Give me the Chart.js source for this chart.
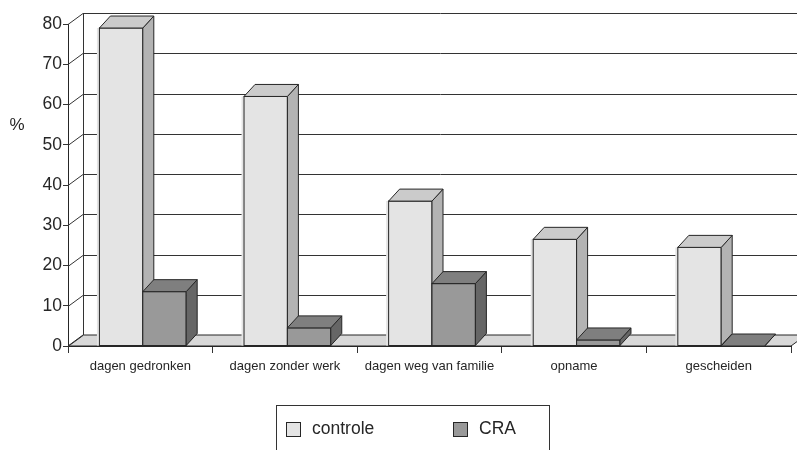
<!DOCTYPE html>
<html>
<head>
<meta charset="utf-8">
<script src="https://cdn.jsdelivr.net/npm/chart.js@4/dist/chart.umd.min.js"></script>
<style>
  html, body { margin: 0; padding: 0; background: #ffffff; }
  #wrap { width: 797px; height: 450px; position: relative; }
</style>
</head>
<body>
<div id="wrap"><canvas id="c" width="797" height="450"></canvas></div>
<script>
// Categories and series (percentages)
const categories = ['dagen gedronken', 'dagen zonder werk', 'dagen weg van familie', 'opname', 'gescheiden'];
const controle = [79, 62, 36, 26.5, 24.5];
const cra = [13.5, 4.5, 15.5, 1.5, 0];
const yMin = 0, yMax = 80, yStep = 10;
const yAxisLabel = '%';

const FONT = "'Liberation Sans', Arial, Helvetica, sans-serif";
const INK = '#262626';

// Shading for the three visible faces of each column: front, top, side
const shades = {
  controle: { front: '#e4e4e4', top: '#cbcbcb', side: '#b3b3b3' },
  cra:      { front: '#999999', top: '#7f7f7f', side: '#666666' }
};

// Depth of the walls/floor and of the columns, in pixels
const WALL_DX = 15, WALL_DY = -11;
const BAR_DX = 11, BAR_DY = -12;
// columns stand half-way into the floor depth, which nudges them right
const BAR_SHIFT = 2.5;

function poly(ctx, pts, fill, stroke) {
  ctx.beginPath();
  ctx.moveTo(pts[0][0], pts[0][1]);
  for (let i = 1; i < pts.length; i++) ctx.lineTo(pts[i][0], pts[i][1]);
  ctx.closePath();
  if (fill) { ctx.fillStyle = fill; ctx.fill(); }
  if (stroke) { ctx.strokeStyle = stroke; ctx.lineWidth = 1; ctx.stroke(); }
}

// Walls, floor and gridlines drawn behind the columns
const walls3d = {
  id: 'walls3d',
  beforeDatasetsDraw(chart) {
    const { ctx, chartArea: a, scales: { y } } = chart;
    const y0 = y.getPixelForValue(yMin);
    const yTop = y.getPixelForValue(yMax);
    ctx.save();
    // floor
    poly(ctx, [[a.left, y0], [a.right, y0], [a.right + WALL_DX, y0 + WALL_DY], [a.left + WALL_DX, y0 + WALL_DY]], '#d8d8d8', INK);
    ctx.strokeStyle = '#333333';
    ctx.lineWidth = 1;
    // back-wall gridlines and side-wall diagonals
    for (let v = yMin; v <= yMax; v += yStep) {
      const py = Math.round(y.getPixelForValue(v)) + 0.5;
      ctx.beginPath();
      if (v > yMin) {
        ctx.moveTo(a.left + WALL_DX, py + WALL_DY);
        ctx.lineTo(a.right + WALL_DX + 20, py + WALL_DY);
      }
      ctx.moveTo(a.left, py);
      ctx.lineTo(a.left + WALL_DX, py + WALL_DY);
      ctx.stroke();
    }
    // back corner of the side wall
    ctx.beginPath();
    ctx.moveTo(a.left + WALL_DX + 0.5, Math.round(yTop) + WALL_DY + 0.5);
    ctx.lineTo(a.left + WALL_DX + 0.5, y0 + WALL_DY);
    ctx.stroke();
    ctx.restore();
  }
};

// Columns drawn category by category, left series first, so every
// column's top and side faces overlap correctly with its neighbour
const columns3d = {
  id: 'columns3d',
  afterDatasetsDraw(chart) {
    const { ctx } = chart;
    const metas = chart.data.datasets.map((d, i) => chart.getDatasetMeta(i));
    ctx.save();
    ctx.translate(BAR_SHIFT, 0);
    for (let c = 0; c < categories.length; c++) {
      metas.forEach((meta, di) => {
        const bar = meta.data[c];
        if (!bar) return;
        const sh = chart.data.datasets[di].shade;
        const { x, y, base, width } = bar.getProps(['x', 'y', 'base', 'width'], true);
        const xl = x - width / 2, xr = x + width / 2;
        // front face, by the bar element itself
        bar.draw(ctx, chart.chartArea);
        if (base - y > 0.5) {
          ctx.strokeStyle = INK; ctx.lineWidth = 1;
          ctx.strokeRect(xl, y, width, base - y);
        }
        // side face
        poly(ctx, [[xr, y], [xr + BAR_DX, y + BAR_DY], [xr + BAR_DX, base + BAR_DY], [xr, base]], sh.side, INK);
        // top face
        poly(ctx, [[xl, y], [xr, y], [xr + BAR_DX, y + BAR_DY], [xl + BAR_DX, y + BAR_DY]], sh.top, INK);
      });
    }
    ctx.restore();
  }
};

// Unit label and the boxed legend below the chart
const annotations = {
  id: 'annotations',
  afterDraw(chart) {
    const { ctx } = chart;
    ctx.save();
    ctx.fillStyle = INK;
    ctx.font = '17px ' + FONT;
    ctx.textAlign = 'center';
    ctx.textBaseline = 'middle';
    ctx.fillText(yAxisLabel, 17, 125);

    // legend frame
    ctx.strokeStyle = '#333333';
    ctx.lineWidth = 1;
    ctx.strokeRect(276.5, 405.5, 273, 60);
    const items = [
      { x: 286.5, ds: chart.data.datasets[0] },
      { x: 453.5, ds: chart.data.datasets[1] }
    ];
    ctx.textAlign = 'left';
    ctx.font = '17.5px ' + FONT;
    items.forEach(it => {
      ctx.fillStyle = it.ds.shade.front;
      ctx.fillRect(it.x, 422.5, 14, 14);
      ctx.strokeStyle = INK;
      ctx.strokeRect(it.x, 422.5, 14, 14);
      ctx.fillStyle = INK;
      ctx.fillText(it.ds.label, it.x + 25.5, 429.5);
    });
    ctx.restore();
  }
};

new Chart(document.getElementById('c'), {
  type: 'bar',
  data: {
    labels: categories,
    datasets: [
      {
        label: 'controle',
        data: controle,
        shade: shades.controle,
        backgroundColor: shades.controle.front,
        borderWidth: 0,
        categoryPercentage: 0.6,
        barPercentage: 1.0
      },
      {
        label: 'CRA',
        data: cra,
        shade: shades.cra,
        backgroundColor: shades.cra.front,
        borderWidth: 0,
        categoryPercentage: 0.6,
        barPercentage: 1.0
      }
    ]
  },
  options: {
    responsive: false,
    animation: false,
    events: [],
    layout: { padding: { left: 0, right: 6, top: 24, bottom: 74 } },
    plugins: {
      legend: { display: false },
      tooltip: { enabled: false }
    },
    scales: {
      x: {
        offset: true,
        grid: { display: true, offset: true, drawOnChartArea: false, drawTicks: true, tickLength: 7, color: '#333333' },
        border: { display: true, color: INK },
        ticks: { color: INK, font: { family: FONT, size: 13 }, padding: 6, maxRotation: 0, autoSkip: false },
        afterFit(scale) { scale.height = 30; }
      },
      y: {
        min: yMin,
        max: yMax,
        ticks: { stepSize: yStep, color: INK, font: { family: FONT, size: 17.5 }, padding: 1 },
        grid: { display: true, drawOnChartArea: false, drawTicks: true, tickLength: 5, color: '#333333' },
        border: { display: true, color: INK },
        afterFit(scale) { scale.width = 68; }
      }
    }
  },
  plugins: [walls3d, columns3d, annotations]
});
</script>
</body>
</html>
